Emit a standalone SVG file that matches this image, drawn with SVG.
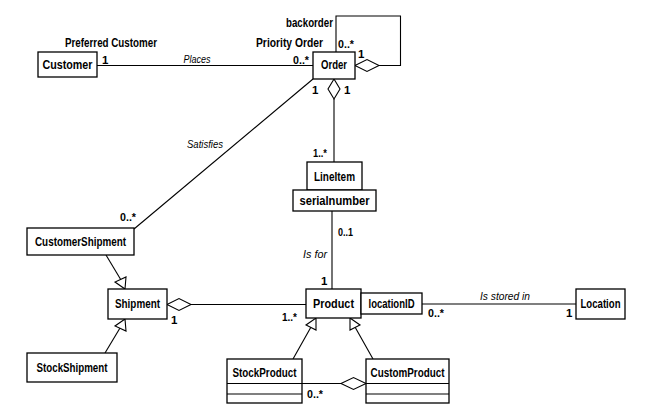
<svg xmlns="http://www.w3.org/2000/svg" width="664" height="420" viewBox="0 0 664 420">
<style>
.box{fill:#fff;stroke:#000;stroke-width:1.3}
.ln{fill:none;stroke:#000;stroke-width:1.1}
.dia{fill:#fff;stroke:#000;stroke-width:1.1}
.tri{fill:#fff;stroke:#000;stroke-width:1.1}
text{font-family:"Liberation Sans",Arial,sans-serif;font-size:12px;fill:#000}
.b{font-weight:bold}
.n{font-size:12.5px}
.m{font-size:11.5px}
.c{text-anchor:middle}
.e{text-anchor:end}
.i{font-style:italic;font-size:11.5px}
</style>
<rect width="664" height="420" fill="#fff"/>
<g id="connectors">
  <path class="ln" d="M97,65.5 H313"/>
  <path class="ln" d="M379,65.5 H400.5 V16 H336 V52"/>
  <polygon class="dia" points="355,65.5 367,59.5 379,65.5 367,71.5"/>
  <path class="ln" d="M334,99 V162"/>
  <polygon class="dia" points="334,79 340,89 334,99 328,89"/>
  <path class="ln" d="M313,79 L134,229"/>
  <path class="ln" d="M332,211 V289"/>
  <path class="ln" d="M106,255 L121,280"/>
  <polygon class="tri" points="125,289 115,282 126,277"/>
  <path class="ln" d="M105,353 L120,328"/>
  <polygon class="tri" points="125,319 126,331 115,326"/>
  <path class="ln" d="M191,304.5 H306"/>
  <polygon class="dia" points="167,304.5 179,298.5 191,304.5 179,310.5"/>
  <path class="ln" d="M422,304 H576"/>
  <path class="ln" d="M293,359 L311,327"/>
  <polygon class="tri" points="316,318 316,330 306,325"/>
  <path class="ln" d="M373,359 L355,327"/>
  <polygon class="tri" points="350,318 360,325 350,330"/>
  <path class="ln" d="M302,383.5 H341"/>
  <polygon class="dia" points="341,383.5 353.5,377.5 366,383.5 353.5,389.5"/>
</g>
<g id="customer">
  <rect class="box" x="38" y="52" width="59" height="25"/>
  <text class="b n c" x="67.5" y="69" textLength="50" lengthAdjust="spacingAndGlyphs">Customer</text>
</g>
<g id="order">
  <rect class="box" x="313" y="52" width="42" height="27"/>
  <text class="b n c" x="334" y="69" textLength="26" lengthAdjust="spacingAndGlyphs">Order</text>
</g>
<g id="lineitem">
  <rect class="box" x="307" y="162" width="55" height="28"/>
  <text class="b n c" x="334.5" y="181" textLength="41" lengthAdjust="spacingAndGlyphs">LineItem</text>
  <rect class="box" x="293" y="190" width="83" height="21"/>
  <text class="b n c" x="334.5" y="205" textLength="70" lengthAdjust="spacingAndGlyphs">serialnumber</text>
</g>
<g id="customershipment">
  <rect class="box" x="27" y="228" width="107" height="27"/>
  <text class="b n c" x="80.5" y="246" textLength="91" lengthAdjust="spacingAndGlyphs">CustomerShipment</text>
</g>
<g id="shipment">
  <rect class="box" x="108" y="289" width="59" height="30"/>
  <text class="b n c" x="137.5" y="308" textLength="45" lengthAdjust="spacingAndGlyphs">Shipment</text>
</g>
<g id="stockshipment">
  <rect class="box" x="27" y="353" width="90" height="29"/>
  <text class="b n c" x="72" y="372" textLength="71" lengthAdjust="spacingAndGlyphs">StockShipment</text>
</g>
<g id="product">
  <rect class="box" x="306" y="289" width="55" height="29"/>
  <text class="b n c" x="333.5" y="308" textLength="41" lengthAdjust="spacingAndGlyphs">Product</text>
  <rect class="box" x="361" y="293" width="61" height="21"/>
  <text class="b n c" x="391.5" y="308" textLength="46" lengthAdjust="spacingAndGlyphs">locationID</text>
</g>
<g id="location">
  <rect class="box" x="576" y="289" width="49" height="30"/>
  <text class="b n c" x="600.5" y="308" textLength="40" lengthAdjust="spacingAndGlyphs">Location</text>
</g>
<g id="stockproduct">
  <rect class="box" x="227" y="359" width="75" height="44"/>
  <path class="ln" d="M227,383.5 H302 M227,394 H302"/>
  <text class="b n c" x="264.5" y="377" textLength="64" lengthAdjust="spacingAndGlyphs">StockProduct</text>
</g>
<g id="customproduct">
  <rect class="box" x="366" y="359" width="83" height="44"/>
  <path class="ln" d="M366,383.5 H449 M366,394 H449"/>
  <text class="b n c" x="407.5" y="377" textLength="74" lengthAdjust="spacingAndGlyphs">CustomProduct</text>
</g>
<g id="labels">
  <text class="b n c" x="111" y="47" textLength="92" lengthAdjust="spacingAndGlyphs">Preferred Customer</text>
  <text class="b n e" x="333" y="27" textLength="47" lengthAdjust="spacingAndGlyphs">backorder</text>
  <text class="b n e" x="323" y="47" textLength="67" lengthAdjust="spacingAndGlyphs">Priority Order</text>
  <text class="b m" x="102" y="64">1</text>
  <text class="i c" x="197" y="63" textLength="27" lengthAdjust="spacingAndGlyphs">Places</text>
  <text class="b m" x="293" y="64" textLength="16" lengthAdjust="spacingAndGlyphs">0..*</text>
  <text class="b m" x="338" y="48" textLength="16" lengthAdjust="spacingAndGlyphs">0..*</text>
  <text class="b m" x="358" y="58">1</text>
  <text class="b m" x="312" y="94">1</text>
  <text class="b m" x="344" y="94">1</text>
  <text class="i c" x="205" y="148" textLength="36" lengthAdjust="spacingAndGlyphs">Satisfies</text>
  <text class="b m" x="313" y="157" textLength="14" lengthAdjust="spacingAndGlyphs">1..*</text>
  <text class="b m" x="338" y="236" textLength="15" lengthAdjust="spacingAndGlyphs">0..1</text>
  <text class="b m" x="120" y="221" textLength="16" lengthAdjust="spacingAndGlyphs">0..*</text>
  <text class="i c" x="315" y="258" textLength="24" lengthAdjust="spacingAndGlyphs">Is for</text>
  <text class="b m" x="321" y="285">1</text>
  <text class="b m" x="171" y="324">1</text>
  <text class="b m" x="282" y="321" textLength="15" lengthAdjust="spacingAndGlyphs">1..*</text>
  <text class="i c" x="505" y="300" textLength="50" lengthAdjust="spacingAndGlyphs">Is stored in</text>
  <text class="b m" x="428" y="317" textLength="16" lengthAdjust="spacingAndGlyphs">0..*</text>
  <text class="b m" x="566" y="317">1</text>
  <text class="b m" x="307" y="398" textLength="16" lengthAdjust="spacingAndGlyphs">0..*</text>
</g>
</svg>
